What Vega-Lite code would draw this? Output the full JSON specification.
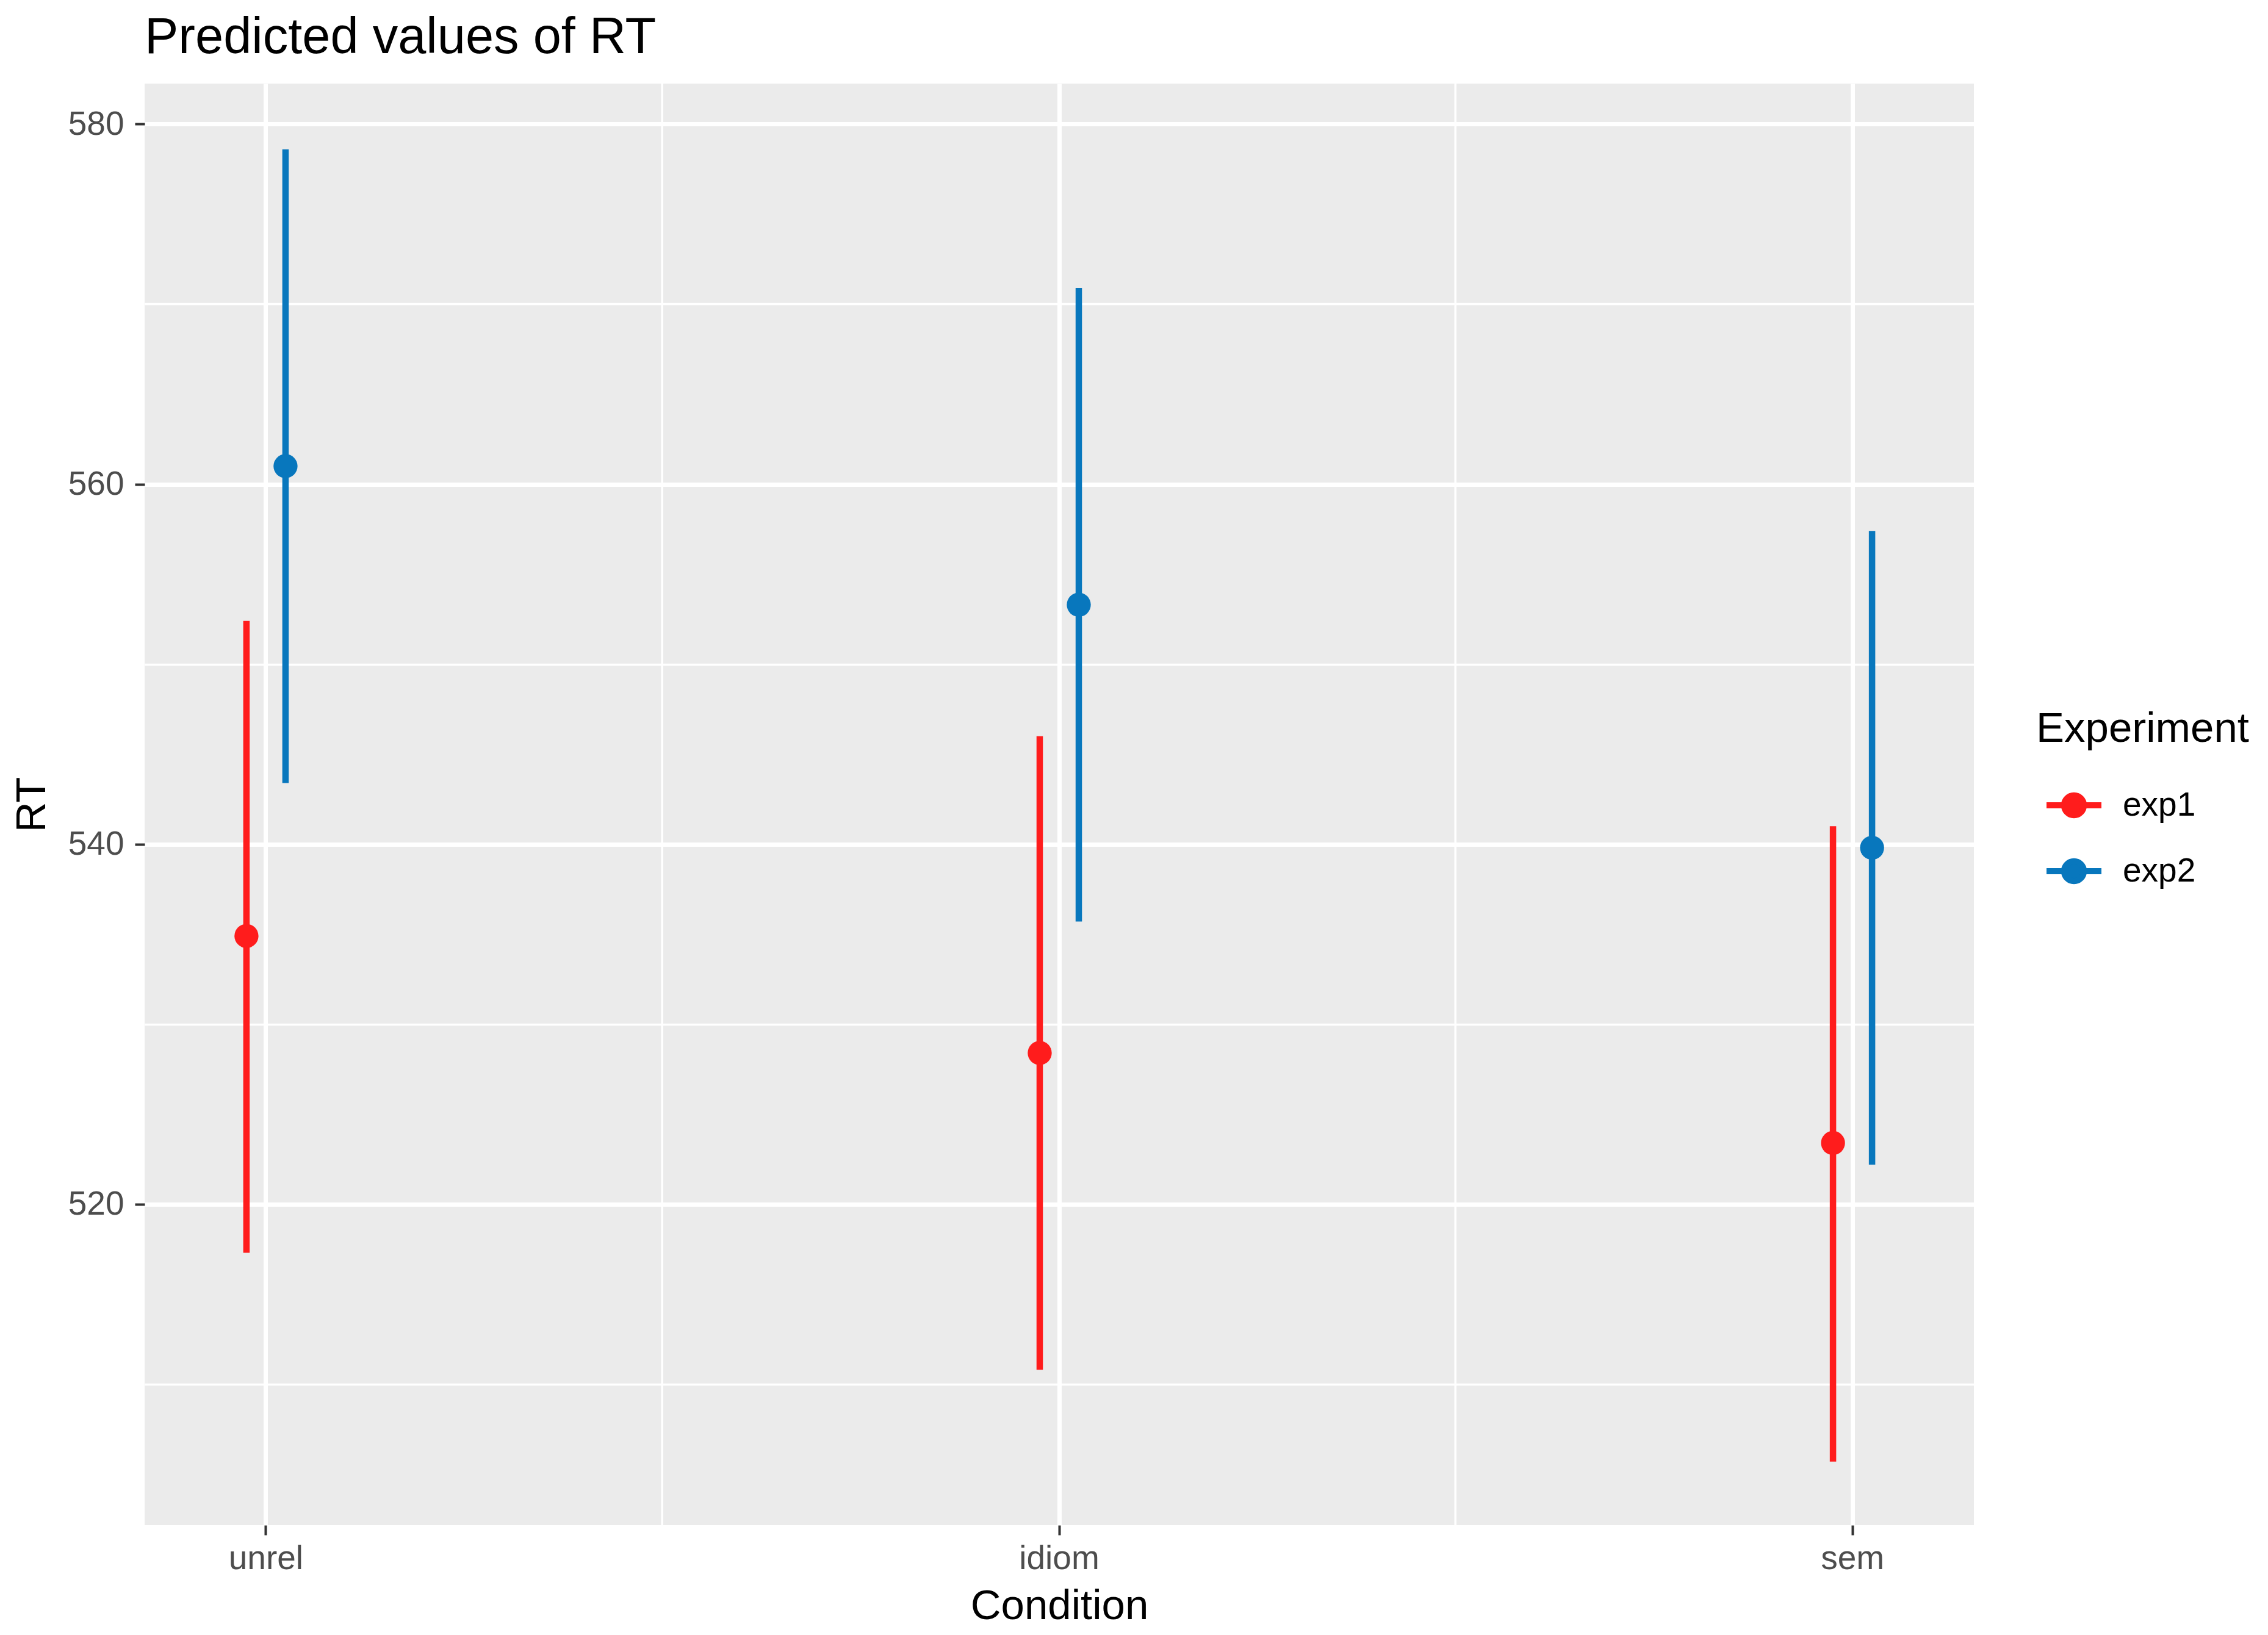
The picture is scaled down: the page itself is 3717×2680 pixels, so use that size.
{
  "$schema": "https://vega.github.io/schema/vega-lite/v6.json",
  "autosize": "none",
  "width": 2998,
  "height": 2363,
  "padding": {"left": 237, "top": 137, "right": 482, "bottom": 180},
  "background": "white",
  "title": {
    "text": "Predicted values of RT",
    "anchor": "start",
    "frame": "group",
    "fontSize": 83,
    "fontWeight": "normal",
    "color": "#000000",
    "baseline": "alphabetic",
    "offset": -35
  },
  "data": {
    "values": [
      {"Condition": "unrel", "Experiment": "exp1", "RT": 534.9, "low": 517.3, "high": 552.4},
      {"Condition": "unrel", "Experiment": "exp2", "RT": 561.0, "low": 543.4, "high": 578.6},
      {"Condition": "idiom", "Experiment": "exp1", "RT": 528.4, "low": 510.8, "high": 546.0},
      {"Condition": "idiom", "Experiment": "exp2", "RT": 553.3, "low": 535.7, "high": 570.9},
      {"Condition": "sem", "Experiment": "exp1", "RT": 523.4, "low": 505.7, "high": 541.0},
      {"Condition": "sem", "Experiment": "exp2", "RT": 539.8, "low": 522.2, "high": 557.4}
    ]
  },
  "layer": [
    {
      "transform": [{"filter": "datum.Condition != 'sem' && datum.Experiment == 'exp1'"}],
      "mark": {"type": "rule", "color": "white", "strokeWidth": 3.5},
      "encoding": {
        "x": {
          "field": "Condition",
          "type": "nominal",
          "bandPosition": 3.035,
          "scale": {"type": "band", "domain": ["unrel", "idiom", "sem"], "paddingInner": 0.803, "paddingOuter": 0.0545}
        }
      }
    },
    {
      "mark": {"type": "rule", "strokeWidth": 10.5},
      "encoding": {
        "x": {
          "field": "Condition",
          "type": "nominal",
          "scale": {"type": "band", "domain": ["unrel", "idiom", "sem"], "paddingInner": 0.803, "paddingOuter": 0.0545}
        },
        "xOffset": {
          "field": "Experiment",
          "type": "nominal",
          "scale": {"type": "band", "domain": ["exp1", "exp2"], "paddingInner": 0, "paddingOuter": 1}
        },
        "y": {
          "field": "low",
          "type": "quantitative",
          "title": "RT",
          "scale": {"domain": [502.17, 582.25], "nice": false, "zero": false}
        },
        "y2": {"field": "high"},
        "color": {
          "field": "Experiment",
          "type": "nominal",
          "scale": {"domain": ["exp1", "exp2"], "range": ["#ff1c1c", "#0877bd"]}
        }
      }
    },
    {
      "mark": {"type": "point", "filled": true, "size": 1550, "opacity": 1},
      "encoding": {
        "x": {
          "field": "Condition",
          "type": "nominal",
          "title": "Condition",
          "scale": {"type": "band", "domain": ["unrel", "idiom", "sem"], "paddingInner": 0.803, "paddingOuter": 0.0545},
          "axis": {
            "bandPosition": 0.5,
            "grid": true,
            "gridColor": "white",
            "gridWidth": 7,
            "domain": false,
            "tickSize": 16,
            "tickWidth": 4,
            "tickColor": "#333333",
            "labelColor": "#4d4d4d",
            "labelFontSize": 55,
            "labelPadding": 38,
            "labelAngle": 0,
            "labelAlign": "center",
            "titleFontSize": 69,
            "titleFontWeight": "normal",
            "titleColor": "#000000",
            "titlePadding": 16
          }
        },
        "xOffset": {
          "field": "Experiment",
          "type": "nominal",
          "scale": {"type": "band", "domain": ["exp1", "exp2"], "paddingInner": 0, "paddingOuter": 1}
        },
        "y": {
          "field": "RT",
          "type": "quantitative",
          "title": "RT",
          "scale": {"domain": [502.17, 582.25], "nice": false, "zero": false},
          "axis": {
            "values": [510, 520, 530, 540, 550, 560, 570, 580],
            "labelExpr": "datum.value % 20 == 0 ? datum.label : ''",
            "grid": true,
            "gridColor": "white",
            "gridWidth": {"condition": {"test": "datum.value % 20 == 0", "value": 7}, "value": 3.5},
            "domain": false,
            "tickSize": 16,
            "tickWidth": 4,
            "tickColor": "#333333",
            "tickOpacity": {"condition": {"test": "datum.value % 20 == 0", "value": 1}, "value": 0},
            "labelColor": "#4d4d4d",
            "labelFontSize": 55,
            "labelPadding": 18,
            "titleFontSize": 69,
            "titleFontWeight": "normal",
            "titleColor": "#000000",
            "titlePadding": 24
          }
        },
        "color": {
          "field": "Experiment",
          "type": "nominal",
          "scale": {"domain": ["exp1", "exp2"], "range": ["#ff1c1c", "#0877bd"]},
          "legend": {
            "title": "Experiment",
            "orient": "none",
            "legendX": 3100,
            "legendY": 1024,
            "padding": 0,
            "titleLimit": 2000,
            "labelLimit": 2000,
            "symbolType": "M-1,0L1,0M-0.36,0A0.36,0.36,0,1,1,0.36,0A0.36,0.36,0,1,1,-0.36,0Z",
            "symbolSize": 8100,
            "symbolStrokeWidth": 10,
            "symbolOffset": 12,
            "symbolOpacity": 1,
            "labelOffset": 30,
            "labelFontSize": 55,
            "labelColor": "#000000",
            "titleFontSize": 69,
            "titleFontWeight": "normal",
            "titleColor": "#000000",
            "titlePadding": 40,
            "rowPadding": 21,
            "encode": {
              "symbols": {
                "update": {
                  "fill": {"scale": "color", "field": "value"},
                  "stroke": {"scale": "color", "field": "value"}
                }
              }
            }
          }
        }
      }
    }
  ],
  "config": {
    "font": "Liberation Sans",
    "view": {"fill": "#ebebeb", "stroke": null}
  }
}
